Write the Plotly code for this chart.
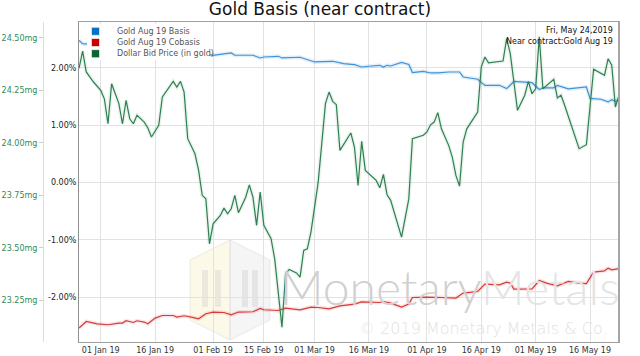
import plotly.graph_objects as go

# ---------------- data ----------------
green_dates = ["2018-12-26","2018-12-27","2018-12-28","2018-12-30","2019-01-01","2019-01-02","2019-01-03","2019-01-04",
    "2019-01-06","2019-01-07","2019-01-08","2019-01-09","2019-01-10","2019-01-11","2019-01-13","2019-01-14","2019-01-15",
    "2019-01-17","2019-01-18","2019-01-20","2019-01-21","2019-01-22","2019-01-23","2019-01-24","2019-01-25","2019-01-27",
    "2019-01-28","2019-01-29","2019-01-30","2019-01-31","2019-02-01","2019-02-03","2019-02-04","2019-02-05","2019-02-06",
    "2019-02-07","2019-02-08","2019-02-10","2019-02-11","2019-02-12","2019-02-13","2019-02-14","2019-02-15","2019-02-17",
    "2019-02-18","2019-02-20","2019-02-21","2019-02-22","2019-02-24","2019-02-25","2019-02-26","2019-02-27","2019-02-28",
    "2019-03-02","2019-03-04","2019-03-05","2019-03-06","2019-03-07","2019-03-08","2019-03-11","2019-03-12","2019-03-13",
    "2019-03-14","2019-03-15","2019-03-18","2019-03-19","2019-03-20","2019-03-21","2019-03-22","2019-03-25","2019-03-27",
    "2019-03-28","2019-03-31","2019-04-01","2019-04-02","2019-04-03","2019-04-04","2019-04-05","2019-04-07","2019-04-08",
    "2019-04-09","2019-04-10","2019-04-11","2019-04-12","2019-04-15","2019-04-16","2019-04-17","2019-04-18","2019-04-22",
    "2019-04-23","2019-04-24","2019-04-25","2019-04-26","2019-04-28","2019-04-29","2019-04-30","2019-05-01","2019-05-02",
    "2019-05-03","2019-05-06","2019-05-07","2019-05-08","2019-05-09","2019-05-13","2019-05-15","2019-05-17","2019-05-20",
    "2019-05-21","2019-05-22","2019-05-23","2019-05-24"]
green_mg = [24.355,24.437,24.338,24.290,24.250,24.210,24.091,24.282,
    24.187,24.091,24.203,24.115,24.091,24.131,24.099,24.071,24.028,
    24.084,24.219,24.266,24.293,24.266,24.293,24.242,24.020,23.948,
    23.869,23.750,23.733,23.519,23.614,23.654,23.689,23.662,23.686,
    23.750,23.667,23.741,23.800,23.741,23.607,23.765,23.607,23.543,
    23.447,23.121,23.376,23.397,23.380,23.360,23.487,23.495,23.575,
    23.813,24.187,24.242,24.198,24.182,23.964,24.047,23.980,23.797,
    24.007,23.869,23.821,23.786,23.850,23.753,23.726,23.551,23.733,
    24.020,24.036,24.052,24.086,24.099,24.144,24.067,23.988,23.932,
    23.845,23.794,24.004,24.067,24.147,24.362,24.409,24.381,24.390,
    24.497,24.425,24.290,24.155,24.227,24.293,24.234,24.258,24.505,
    24.258,24.303,24.214,24.227,24.179,23.972,23.991,24.351,24.322,
    24.401,24.370,24.171,24.227]

basis_dates = ["2018-12-26","2018-12-27","2018-12-31","2019-01-04","2019-01-08","2019-01-11","2019-01-15","2019-01-18",
    "2019-01-22","2019-01-25","2019-01-29","2019-02-01","2019-02-06","2019-02-07","2019-02-12","2019-02-14","2019-02-15",
    "2019-02-19","2019-02-20","2019-02-25","2019-02-27","2019-03-01","2019-03-06","2019-03-09","2019-03-12","2019-03-14",
    "2019-03-16","2019-03-19","2019-03-20","2019-03-21","2019-03-22","2019-03-25","2019-03-27","2019-03-28","2019-03-31",
    "2019-04-02","2019-04-04","2019-04-07","2019-04-10","2019-04-11","2019-04-15","2019-04-17","2019-04-21","2019-04-23",
    "2019-04-25","2019-04-30","2019-05-02","2019-05-03","2019-05-06","2019-05-07","2019-05-10","2019-05-13","2019-05-15",
    "2019-05-16","2019-05-19","2019-05-21","2019-05-22","2019-05-23","2019-05-24"]
basis_pct = [2.483,2.424,2.40,2.38,2.36,2.35,2.33,2.31,
    2.30,2.28,2.26,2.222,2.262,2.222,2.222,2.175,2.192,
    2.204,2.175,2.187,2.152,2.105,2.117,2.075,2.058,2.017,
    2.030,2.047,2.017,2.047,2.035,2.096,2.061,1.921,1.942,
    1.913,1.913,1.930,1.930,1.843,1.803,1.695,1.698,1.639,
    1.764,1.743,1.625,1.651,1.651,1.695,1.634,1.651,1.668,
    1.468,1.454,1.407,1.447,1.419,1.454]

cobasis_dates = ["2018-12-26","2018-12-28","2018-12-31","2019-01-03","2019-01-06","2019-01-07","2019-01-08","2019-01-10",
    "2019-01-11","2019-01-13","2019-01-14","2019-01-16","2019-01-18","2019-01-21","2019-01-22","2019-01-24","2019-01-26",
    "2019-01-28","2019-01-30","2019-02-01","2019-02-04","2019-02-06","2019-02-08","2019-02-12","2019-02-14","2019-02-15",
    "2019-02-19","2019-02-21","2019-02-25","2019-02-28","2019-03-02","2019-03-05","2019-03-08","2019-03-12","2019-03-14",
    "2019-03-19","2019-03-20","2019-03-21","2019-03-22","2019-03-25","2019-03-27","2019-03-28","2019-04-01","2019-04-05",
    "2019-04-09","2019-04-11","2019-04-15","2019-04-17","2019-04-21","2019-04-23","2019-04-24","2019-04-25","2019-04-30",
    "2019-05-02","2019-05-04","2019-05-07","2019-05-10","2019-05-13","2019-05-15","2019-05-17","2019-05-20","2019-05-21",
    "2019-05-22","2019-05-24"]
cobasis_pct = [-2.543,-2.428,-2.468,-2.485,-2.456,-2.456,-2.415,-2.445,
    -2.415,-2.438,-2.468,-2.368,-2.323,-2.323,-2.351,-2.328,-2.351,
    -2.380,-2.293,-2.263,-2.271,-2.311,-2.263,-2.258,-2.201,-2.223,
    -2.236,-2.194,-2.223,-2.176,-2.183,-2.206,-2.154,-2.124,-2.084,
    -2.096,-2.079,-2.096,-2.106,-2.176,-2.124,-2.009,-2.002,-2.009,
    -2.019,-1.932,-1.904,-1.775,-1.787,-1.740,-1.757,-1.862,-1.857,
    -1.712,-1.757,-1.805,-1.729,-1.757,-1.765,-1.565,-1.543,-1.496,
    -1.525,-1.503]

x_tick_dates = ["2019-01-01","2019-01-16","2019-02-01","2019-02-15","2019-03-01",
                "2019-03-16","2019-04-01","2019-04-16","2019-05-01","2019-05-16"]
x_tick_labels = ["01 Jan 19","16 Jan 19","01 Feb 19","15 Feb 19","01 Mar 19",
                 "16 Mar 19","01 Apr 19","16 Apr 19","01 May 19","16 May 19"]
pct_ticks = [-2, -1, 0, 1, 2]
pct_labels = ["-2.00%", "-1.00%", "0.00%", "1.00%", "2.00%"]
mg_ticks = [23.25, 23.50, 23.75, 24.00, 24.25, 24.50]
mg_labels = ["23.25mg", "23.50mg", "23.75mg", "24.00mg", "24.25mg", "24.50mg"]

series_names = ["Gold Aug 19 Basis", "Gold Aug 19 Cobasis", "Dollar Bid Price (in gold)"]
legend_colors = ["#0a6fc4", "#c80000", "#0b6432"]

# ---------------- figure ----------------
W, H = 640, 356
ML, MR, MT, MB = 0, 0, 22, 14
PX0, PX1 = 79, 619
FONT = "DejaVu Sans"

def px(xp):
    return xp / W

def py(yp):
    return (H - MB - yp) / (H - MT - MB)

fig = go.Figure()

def add_line(x, y, color, glow, yaxis):
    fig.add_trace(go.Scatter(x=x, y=y, mode="lines", yaxis=yaxis, showlegend=False,
                             line=dict(color=glow, width=4), hoverinfo="skip"))
    fig.add_trace(go.Scatter(x=x, y=y, mode="lines", yaxis=yaxis, showlegend=False,
                             line=dict(color=color, width=1.2)))

add_line(basis_dates, basis_pct, "#3f93da", "rgba(63,147,218,0.15)", "y")
add_line(cobasis_dates, cobasis_pct, "#d63a3a", "rgba(214,58,58,0.13)", "y")
add_line(green_dates, green_mg, "#2e8050", "rgba(46,140,90,0.10)", "y2")

shapes = []
# watermark logo (hexagon halves + bars)
shapes.append(dict(type="path", xref="paper", yref="paper", layer="below",
                   path=f"M {px(230)} {py(240)} L {px(190)} {py(260)} L {px(190)} {py(320)} L {px(230)} {py(340)} Z",
                   fillcolor="rgba(250,238,190,0.35)", line=dict(color="rgba(200,200,200,0.35)", width=1)))
shapes.append(dict(type="path", xref="paper", yref="paper", layer="below",
                   path=f"M {px(230)} {py(240)} L {px(270)} {py(260)} L {px(270)} {py(320)} L {px(230)} {py(340)} Z",
                   fillcolor="rgba(225,225,225,0.35)", line=dict(color="rgba(200,200,200,0.35)", width=1)))
for bx in (202, 215, 242, 252):
    shapes.append(dict(type="rect", xref="paper", yref="paper", layer="below",
                       x0=px(bx), x1=px(bx + 6), y0=py(307), y1=py(270),
                       fillcolor="rgba(200,200,200,0.35)", line=dict(width=0)))
# legend background
shapes.append(dict(type="rect", xref="paper", yref="paper", layer="above",
                   x0=px(87), x1=px(210), y0=py(60), y1=py(24),
                   fillcolor="white", line=dict(width=0)))
legend_rows = [31.3, 42.5, 53.7]
for c, yc in zip(legend_colors, legend_rows):
    shapes.append(dict(type="rect", xref="paper", yref="paper", layer="above",
                       x0=px(91.5), x1=px(99.5), y0=py(yc + 4), y1=py(yc - 4),
                       fillcolor=c, line=dict(color="rgba(255,255,255,0.6)", width=1)))
# right border
shapes.append(dict(type="line", xref="paper", yref="paper", layer="above",
                   x0=px(PX1), x1=px(PX1), y0=0, y1=1, line=dict(color="#a6a6a6", width=2)))

annotations = []
for name, yc in zip(series_names, legend_rows):
    annotations.append(dict(text=name, xref="paper", yref="paper", x=px(115), y=py(yc),
                            xanchor="left", yanchor="middle", showarrow=False,
                            font=dict(family=FONT, size=8, color="#555555")))
annotations.append(dict(text="Fri, May 24,2019", xref="paper", yref="paper", x=px(615), y=py(30.5),
                        xanchor="right", yanchor="middle", showarrow=False,
                        font=dict(family=FONT, size=8, color="#111111")))
annotations.append(dict(text="Near contract:Gold Aug 19", xref="paper", yref="paper", x=px(615), y=py(41.5),
                        xanchor="right", yanchor="middle", showarrow=False,
                        font=dict(family=FONT, size=8, color="#111111")))
annotations.append(dict(text='<span style="color:#d0d0d0">Monetary</span><span style="color:#e4e4e4">Metals</span>',
                        xref="paper", yref="paper", x=px(450), y=py(286),
                        xanchor="center", yanchor="middle", showarrow=False,
                        font=dict(family="Lato", size=48, weight=300)))
annotations.append(dict(text="© 2019 Monetary Metals & Co.", xref="paper", yref="paper", x=px(610), y=py(328),
                        xanchor="right", yanchor="middle", showarrow=False,
                        font=dict(family=FONT, size=16, color="#e2e2e2", weight=200)))

fig.update_layout(
    width=W, height=H,
    margin=dict(l=ML, r=MR, t=MT, b=MB),
    paper_bgcolor="white", plot_bgcolor="white",
    showlegend=False,
    title=dict(text="Gold Basis (near contract)", x=0.5, xanchor="center",
               y=1 - 9 / H, yanchor="middle", yref="container",
               font=dict(family=FONT, size=17, color="#111111")),
    shapes=shapes, annotations=annotations,
    xaxis=dict(domain=[px(PX0), px(PX1)], type="date",
               range=["2018-12-26", "2019-05-24"],
               tickvals=x_tick_dates, ticktext=x_tick_labels,
               tickfont=dict(family=FONT, size=8, color="#333333"),
               showgrid=True, gridcolor="#e2e2e2", gridwidth=1,
               showline=True, linecolor="#a0a0a0", linewidth=1, mirror=True,
               ticks="", zeroline=False),
    yaxis=dict(range=[-2.786, 2.803], tickvals=pct_ticks, ticktext=pct_labels,
               tickfont=dict(family=FONT, size=8, color="#222222"),
               showgrid=True, gridcolor="#e2e2e2", gridwidth=1,
               showline=True, linecolor="#909090", linewidth=1, mirror=True,
               ticks="", zeroline=False),
    yaxis2=dict(range=[23.051, 24.576], tickvals=mg_ticks, ticktext=mg_labels,
                overlaying="y", side="left", anchor="free", position=px(43),
                tickfont=dict(family=FONT, size=8, color="#2e8b57"),
                showgrid=False, zeroline=False,
                showline=True, linecolor="#dddddd", linewidth=1,
                ticks="outside", ticklen=4, tickcolor="#cccccc"),
)

fig.write_html("out.html", config={"displayModeBar": False},
               post_script="document.body.style.margin='0';document.body.style.overflow='hidden';")
